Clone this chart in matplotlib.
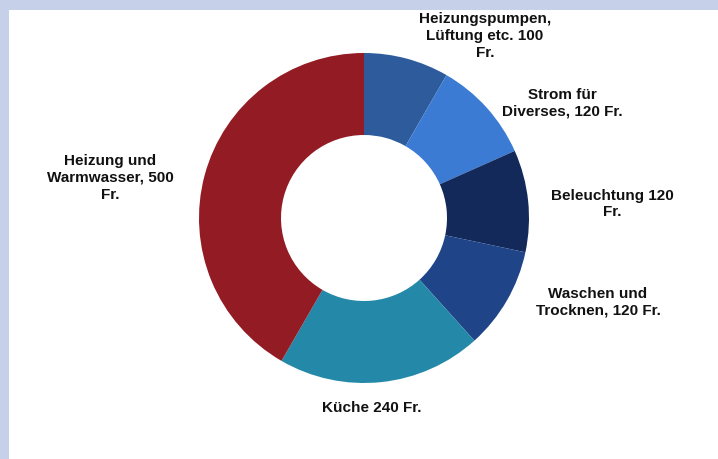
import matplotlib.pyplot as plt
from matplotlib.patches import Rectangle

# Stromkosten pro Jahr (Fr.)
labels = ['Heizungspumpen,\nLüftung etc. 100\nFr.',
          'Strom für\nDiverses, 120 Fr.',
          'Beleuchtung 120\nFr.',
          'Waschen und\nTrocknen, 120 Fr.',
          'Küche 240 Fr.',
          'Heizung und\nWarmwasser, 500\nFr.']
values = [100, 120, 120, 120, 240, 500]
colors = ['#2D5B9B', '#3B7BD4', '#13295A', '#1F4488', '#2489A8', '#931B23']

# Label-Positionen in Pixel (x, y von oben)
label_pos = [(485, 36), (562, 103), (612, 204), (598, 302), (372, 408), (110, 178)]

W, H = 718, 459
fig = plt.figure(figsize=(W / 100, H / 100), dpi=100)
fig.patch.set_facecolor('#C6D0E8')
ax = fig.add_axes([0, 0, 1, 1])

# weisser Hintergrund
ax.add_patch(Rectangle((9, 0), W - 9, H - 10, facecolor='white', edgecolor='none', zorder=0))

ax.pie(values, colors=colors, startangle=90, counterclock=False,
       center=(364, H - 218), radius=165, frame=True,
       wedgeprops=dict(width=82, edgecolor='none'))
ax.set_xlim(0, W)
ax.set_ylim(0, H)
ax.set_aspect('equal')
ax.axis('off')

for lab, (x, y) in zip(labels, label_pos):
    ax.text(x, H - y, lab, ha='center', va='center', fontsize=11,
            fontweight='bold', family='Liberation Sans', color='#111111',
            linespacing=1.25)

fig.savefig('out.png', dpi=100)
